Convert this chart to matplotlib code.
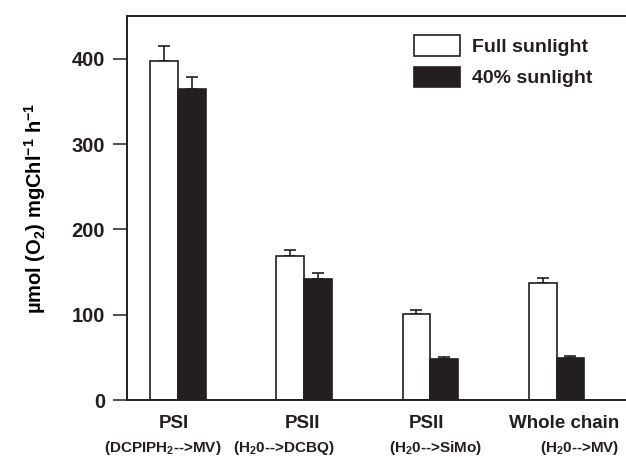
import matplotlib

matplotlib.use("Agg")
import matplotlib.pyplot as plt  # noqa: E402
import numpy as np  # noqa: E402
from matplotlib.patches import Patch  # noqa: E402

INK = "#231F20"

groups = ["PSI", "PSII", "PSII", "Whole chain"]
reactions = [
    "(DCPIPH$_2$-->MV)",
    "(H$_2$0-->DCBQ)",
    "(H$_2$0-->SiMo)",
    "(H$_2$0-->MV)",
]
full_sun = [397, 169, 101, 137]
full_err = [18, 7, 5, 6]
shade_sun = [364, 142, 48, 49]
shade_err = [15, 7, 2, 3]
series_labels = ["Full sunlight", "40% sunlight"]

plt.rcParams.update(
    {
        "font.family": "Liberation Sans",
        "font.weight": "bold",
        "axes.labelweight": "bold",
        "mathtext.fontset": "custom",
        "mathtext.rm": "Liberation Sans:bold",
        "mathtext.it": "Liberation Sans:bold",
        "mathtext.bf": "Liberation Sans:bold",
        "mathtext.default": "rm",
        "text.color": INK,
        "axes.edgecolor": INK,
        "ytick.color": INK,
    }
)

fig = plt.figure(figsize=(6.26, 4.57), dpi=100)
ax = fig.add_axes([0.2034, 0.1247, 0.7966 + 0.01, 0.8403])

x = np.arange(len(groups))
w = 0.22
ax.bar(x - w / 2, full_sun, w, color="white", edgecolor=INK, linewidth=1.2, zorder=2)
ax.bar(x + w / 2, shade_sun, w, color=INK, edgecolor=INK, linewidth=1.2, zorder=2)
for xs, vals, errs in [(x - w / 2, full_sun, full_err), (x + w / 2, shade_sun, shade_err)]:
    ax.errorbar(
        xs,
        vals,
        yerr=[np.zeros(len(x)), errs],
        fmt="none",
        ecolor=INK,
        elinewidth=1.2,
        capsize=4.5,
        capthick=1.2,
        zorder=1,
    )

ax.set_xlim(-0.4, 3.6)
ax.set_ylim(0, 450)
ax.set_yticks([0, 100, 200, 300, 400])
ax.tick_params(axis="y", direction="out", length=10, width=1.1, labelsize=14.5, pad=6)
ax.set_xticks([])
ax.spines["right"].set_visible(False)
for side in ["left", "top", "bottom"]:
    ax.spines[side].set_linewidth(1.4)
ax.set_ylabel("µmol (O$_2$) mgChl$^{-1}$ h$^{-1}$", fontsize=14.5, labelpad=17)

trans = ax.get_xaxis_transform()
name_dx = [-0.03, -0.01, -0.03, 0.06]
sub_dx = [-0.12, -0.16, 0.04, 0.18]
for i, (name, sub) in enumerate(zip(groups, reactions)):
    ax.text(i + name_dx[i], -0.06, name, transform=trans, ha="center", va="center",
            fontsize=13.5, clip_on=False)
    ax.text(i + sub_dx[i], -0.125, sub, transform=trans, ha="center", va="center",
            fontsize=11, clip_on=False)

handles = [
    Patch(facecolor="white", edgecolor=INK, linewidth=1.2),
    Patch(facecolor=INK, edgecolor=INK, linewidth=1.2),
]
fig.legend(
    handles,
    series_labels,
    loc="upper left",
    bbox_to_anchor=(414 / 626, 1 - 35 / 457),
    frameon=False,
    fontsize=14,
    handlelength=2.37,
    handleheight=1.25,
    handletextpad=0.62,
    labelspacing=0.55,
    borderpad=0,
    borderaxespad=0,
)

fig.savefig("out.png", dpi=100)
